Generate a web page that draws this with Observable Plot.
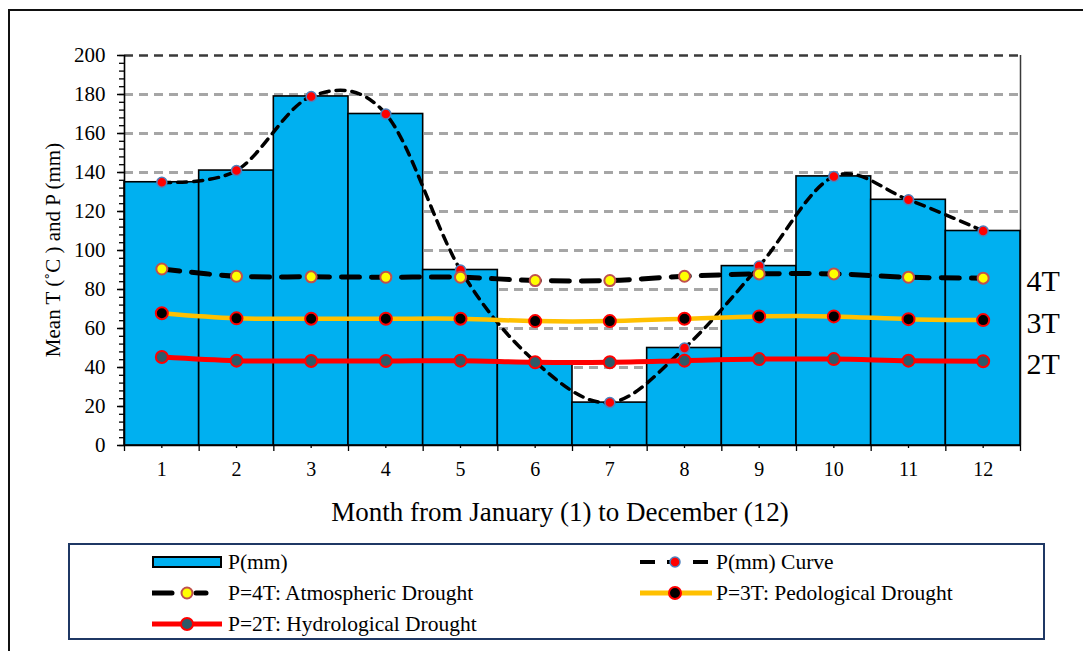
<!DOCTYPE html>
<html>
<head>
<meta charset="utf-8">
<script src="https://cdn.jsdelivr.net/npm/d3@7"></script>
<script src="https://cdn.jsdelivr.net/npm/@observablehq/plot@0.6"></script>
<style>
  html, body { margin: 0; padding: 0; background: #fff; }
  body { width: 1083px; height: 651px; overflow: hidden; position: relative; font-family: "Liberation Serif", "Times New Roman", serif; color: #000; }
  #frame { position: absolute; left: 8px; top: 9px; width: 1200px; height: 800px; border: 2px solid #111; }
  #chart { position: absolute; left: 0; top: 0; }
  #ytitle { position: absolute; left: 53px; top: 250px; transform: translate(-50%, -50%) rotate(-90deg); white-space: nowrap; font-size: 21px; }
  #xtitle { position: absolute; left: 560px; top: 512px; transform: translate(-50%, -50%); white-space: nowrap; font-size: 27px; }
  #legend { position: absolute; left: 68px; top: 543px; width: 977px; height: 97px; box-sizing: border-box; border: 2px solid #1F3864; }
  .item { position: absolute; height: 30px; display: flex; align-items: center; white-space: nowrap; font-size: 21.5px; }
  .item svg { display: block; margin-right: 4px; }
</style>
</head>
<body>
<div id="frame"></div>
<div id="chart"></div>
<div id="ytitle">Mean T (˚C ) and P (mm)</div>
<div id="xtitle">Month from January (1) to December (12)</div>
<div id="legend"></div>
<script>
// ---- data ----
const months = [1, 2, 3, 4, 5, 6, 7, 8, 9, 10, 11, 12];
const precip = [135, 141, 179, 170, 90, 43, 22, 50, 92, 138, 126, 110];
const p4T = [90.5, 86.8, 86.5, 86.3, 86.3, 84.6, 84.6, 86.8, 88, 88, 86.3, 85.8];
const p3T = [67.8, 65.2, 65, 65, 65, 63.8, 63.8, 65, 66.2, 66.2, 64.8, 64.3];
const p2T = [45.4, 43.5, 43.3, 43.3, 43.5, 42.7, 42.7, 43.5, 44.3, 44.3, 43.5, 43.2];
const yTicks = [0, 20, 40, 60, 80, 100, 120, 140, 160, 180, 200];
const sideLabels = ["4T", "3T", "2T"];
const legendLabels = ["P(mm)", "P(mm) Curve", "P=4T: Atmospheric Drought", "P=3T: Pedological Drought", "P=2T: Hydrological Drought"];

const data = months.map((m, i) => ({month: m, P: precip[i], a: p4T[i], b: p3T[i], c: p2T[i]}));
const ends = [
  {label: sideLabels[0], v: p4T[p4T.length - 1]},
  {label: sideLabels[1], v: p3T[p3T.length - 1]},
  {label: sideLabels[2], v: p2T[p2T.length - 1]}
];
const xMin = months[0] - 0.5, xMax = months[months.length - 1] + 0.5;
const bounds = d3.range(xMin, xMax + 0.01, 1);
const smooth = d3.curveCardinal.tension(0);

const chart = Plot.plot({
  width: 1083,
  height: 470,
  marginLeft: 124,
  marginRight: 63,
  marginTop: 55,
  marginBottom: 25,
  x: {type: "linear", domain: [xMin, xMax]},
  y: {domain: [0, 200]},
  style: {fontFamily: "'Liberation Serif', 'Times New Roman', serif", background: "transparent", color: "#000", overflow: "visible"},
  marks: [
    Plot.ruleY(yTicks.filter(t => t > 0 && t < 200), {stroke: "#a6a6a6", strokeWidth: 3, strokeDasharray: "9,6"}),
    Plot.ruleY([200], {stroke: "#3a3a3a", strokeWidth: 2.5, strokeDasharray: "9,6"}),
    Plot.ruleX([xMax], {y1: 0, y2: 200, stroke: "#3a3a3a", strokeWidth: 1.5}),
    Plot.rectY(data, {x1: d => d.month - 0.5, x2: d => d.month + 0.5, y: "P", fill: "#00B0F0", stroke: "#000", strokeWidth: 1.6}),
    Plot.ruleX([xMin], {y1: 0, y2: 200, stroke: "#000", strokeWidth: 1.6}),
    Plot.ruleY([0], {stroke: "#000", strokeWidth: 1.6}),
    Plot.axisY({ticks: d3.range(0, 201, 4), tickSize: 5, tickFormat: () => "", label: null, strokeWidth: 1.3}),
    Plot.axisY({ticks: yTicks, tickSize: 7, tickPadding: 12, fontSize: 21, label: null, strokeWidth: 1.5}),
    Plot.axisX({ticks: bounds, tickSize: 6, tickFormat: () => "", label: null, strokeWidth: 1.3}),
    Plot.axisX({ticks: months, tickSize: 3, tickPadding: 13, fontSize: 20, label: null, strokeWidth: 1.3}),
    // P(mm) curve
    Plot.line(data, {x: "month", y: "P", curve: smooth, stroke: "#000", strokeWidth: 3.5, strokeDasharray: "9,7"}),
    Plot.dot(data, {x: "month", y: "P", r: 5, fill: "#FF0000", stroke: "#4F81BD", strokeWidth: 1.5}),
    // 4T
    Plot.line(data, {x: "month", y: "a", curve: smooth, stroke: "#000", strokeWidth: 5, strokeDasharray: "18,12"}),
    Plot.dot(data, {x: "month", y: "a", r: 5.5, fill: "#FFFF00", stroke: "#C0504D", strokeWidth: 2}),
    // 3T
    Plot.line(data, {x: "month", y: "b", curve: smooth, stroke: "#FFC000", strokeWidth: 4.5}),
    Plot.dot(data, {x: "month", y: "b", r: 6, fill: "#000", stroke: "#FF0000", strokeWidth: 2}),
    // 2T
    Plot.line(data, {x: "month", y: "c", curve: smooth, stroke: "#FF0000", strokeWidth: 5}),
    Plot.dot(data, {x: "month", y: "c", r: 6, fill: "#2F5A68", stroke: "#FF0000", strokeWidth: 2}),
    // side labels
    Plot.text(ends, {frameAnchor: "right", y: "v", text: "label", dx: 6, dy: 3, textAnchor: "start", fontSize: 30, fill: "#000"})
  ]
});
document.getElementById("chart").appendChild(chart);

// ---- legend ----
const NS = "http://www.w3.org/2000/svg";
function el(name, attrs) {
  const e = document.createElementNS(NS, name);
  for (const k in attrs) e.setAttribute(k, attrs[k]);
  return e;
}
function symbol(kind) {
  const s = el("svg", {width: 72, height: 20});
  if (kind === 0) {
    s.appendChild(el("rect", {x: 1, y: 5, width: 68, height: 10, fill: "#00B0F0", stroke: "#000", "stroke-width": 2}));
  } else if (kind === 1) {
    s.appendChild(el("line", {x1: 0, x2: 15, y1: 10, y2: 10, stroke: "#000", "stroke-width": 4}));
    s.appendChild(el("line", {x1: 27, x2: 31, y1: 10, y2: 10, stroke: "#000", "stroke-width": 4}));
    s.appendChild(el("line", {x1: 53, x2: 68, y1: 10, y2: 10, stroke: "#000", "stroke-width": 4}));
    s.appendChild(el("circle", {cx: 35, cy: 10, r: 5, fill: "#FF0000", stroke: "#4F81BD", "stroke-width": 1.5}));
  } else if (kind === 2) {
    s.appendChild(el("line", {x1: 0, x2: 20, y1: 10, y2: 10, stroke: "#000", "stroke-width": 5, "stroke-linecap": "round"}));
    s.appendChild(el("line", {x1: 44, x2: 54, y1: 10, y2: 10, stroke: "#000", "stroke-width": 5, "stroke-linecap": "round"}));
    s.appendChild(el("circle", {cx: 35, cy: 10, r: 5.5, fill: "#FFFF00", stroke: "#C0504D", "stroke-width": 2}));
  } else if (kind === 3) {
    s.appendChild(el("line", {x1: 0, x2: 72, y1: 10, y2: 10, stroke: "#FFC000", "stroke-width": 5}));
    s.appendChild(el("circle", {cx: 35, cy: 10, r: 6, fill: "#000", stroke: "#FF0000", "stroke-width": 2}));
  } else {
    s.appendChild(el("line", {x1: 0, x2: 70, y1: 10, y2: 10, stroke: "#FF0000", "stroke-width": 5}));
    s.appendChild(el("circle", {cx: 35, cy: 10, r: 6, fill: "#2F5A68", stroke: "#FF0000", "stroke-width": 2}));
  }
  return s;
}
const legend = document.getElementById("legend");
legendLabels.forEach((lab, i) => {
  const col = i % 2, row = Math.floor(i / 2);
  const d = document.createElement("div");
  d.className = "item";
  d.style.left = (col === 0 ? 82 : 570) + "px";
  d.style.top = (2 + row * 31) + "px";
  d.appendChild(symbol(i));
  const t = document.createElement("span");
  t.textContent = lab;
  d.appendChild(t);
  legend.appendChild(d);
});
</script>
</body>
</html>
